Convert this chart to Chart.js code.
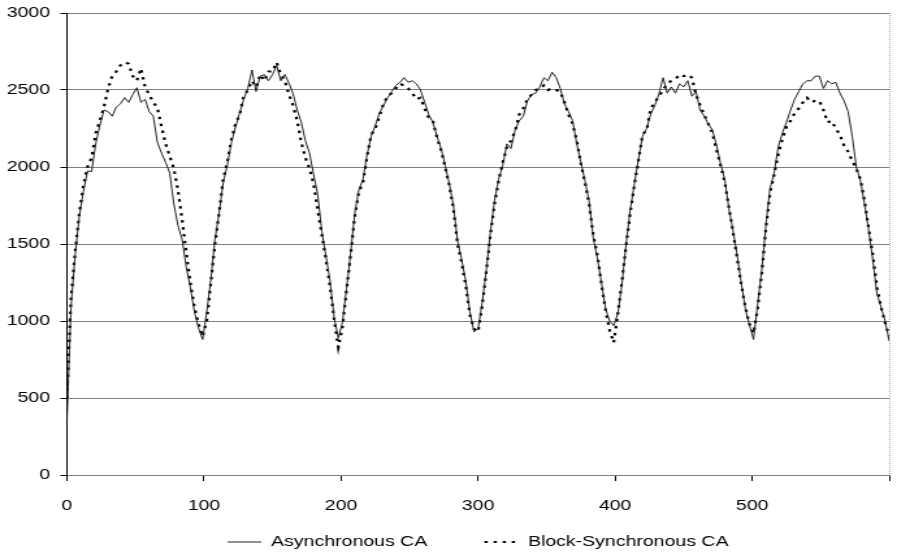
<!DOCTYPE html>
<html>
<head>
<meta charset="utf-8">
<script src="https://cdn.jsdelivr.net/npm/chart.js@4.4.0/dist/chart.umd.min.js"></script>
<style>
  html, body { margin: 0; padding: 0; background: #fff; overflow: hidden; }
  /* chart is laid out 700 wide and widened to 910 */
  #wrap { width: 700px; height: 556px; transform: scaleX(1.3); transform-origin: 0 0; }
</style>
</head>
<body>
<div id="wrap"><canvas id="cycles" width="700" height="556"></canvas></div>
<script>
// sampled every 3 steps, 0..600
var STEP = 3;
var steps = [];
for (var t = 0; t <= 600; t += STEP) steps.push(t);

var asyncCA = [
  350, 1100, 1430, 1680, 1840, 1975, 1970, 2150, 2270, 2370,
  2360, 2330, 2390, 2410, 2450, 2420, 2470, 2515, 2420, 2440,
  2360, 2330, 2160, 2090, 2030, 1960, 1760, 1620, 1530, 1353,
  1220, 1060, 955, 880, 1060, 1270, 1530, 1700, 1900, 2010,
  2160, 2260, 2350, 2440, 2510, 2630, 2490, 2590, 2600, 2560,
  2600, 2660, 2560, 2600, 2545, 2475, 2370, 2290, 2170, 2090,
  1950, 1820, 1580, 1420, 1260, 1020, 890, 990, 1210, 1440,
  1700, 1850, 1920, 2080, 2200, 2270, 2350, 2400, 2450, 2490,
  2530, 2550, 2580, 2550, 2560, 2540, 2500, 2420, 2340, 2290,
  2200, 2120, 2010, 1890, 1750, 1520, 1400, 1260, 1060, 930,
  950, 1120, 1330, 1580, 1780, 1920, 2010, 2150, 2120, 2240,
  2300, 2330, 2430, 2470, 2480, 2520, 2580, 2560, 2615, 2580,
  2510, 2410, 2360, 2300, 2150, 2030, 1910, 1780, 1540, 1410,
  1250, 1080, 1000, 970, 1050, 1240, 1500, 1720, 1890, 2050,
  2200, 2250, 2345, 2400, 2475, 2580, 2480, 2520, 2480, 2540,
  2520, 2560, 2460, 2490, 2370, 2330, 2280, 2240, 2140, 2020,
  1920, 1730, 1590, 1430, 1250, 1080, 975, 880, 1110, 1330,
  1620, 1860, 1960, 2130, 2220, 2290, 2370, 2440, 2490, 2540,
  2560, 2560, 2590, 2590, 2510, 2560, 2540, 2550, 2480, 2430,
  2360, 2200, 2000, 1910, 1760, 1590, 1400, 1180, 1090, 1000,
  870
];

var blockSyncCA = [
  500, 1150, 1450, 1700, 1880, 2000, 2060, 2220, 2300, 2390,
  2510, 2590, 2620, 2660, 2680, 2670, 2590, 2560, 2640, 2520,
  2470, 2420, 2385, 2262, 2150, 2070, 1990, 1850, 1660, 1450,
  1250, 1090, 980, 900, 1000, 1250, 1500, 1700, 1920, 2030,
  2180, 2280, 2340, 2460, 2500, 2560, 2520, 2600, 2560, 2620,
  2620, 2680, 2600, 2560, 2470, 2400, 2300, 2160, 2060, 1990,
  1890, 1720, 1560, 1400, 1220, 1010, 830, 960, 1200, 1430,
  1680, 1840, 1900, 2070, 2210, 2250, 2330, 2410, 2460, 2480,
  2510, 2540, 2530, 2510, 2480, 2440, 2450, 2380, 2320, 2300,
  2190, 2110, 2000, 1880, 1730, 1500, 1380, 1230, 1040, 950,
  930, 1100, 1320, 1560, 1760, 1910, 2030, 2130, 2170, 2230,
  2340, 2380, 2440, 2470, 2500, 2510, 2530, 2500, 2510, 2500,
  2490, 2420, 2340, 2280, 2170, 2020, 1900, 1760, 1560, 1430,
  1240, 1070, 940, 860, 1050, 1260, 1490, 1700, 1880, 2040,
  2210, 2240, 2380, 2420, 2460, 2500, 2540, 2560, 2570, 2600,
  2590, 2600, 2580, 2470, 2400, 2340, 2280, 2220, 2110, 2010,
  1900, 1740, 1580, 1410, 1240, 1090, 980, 920, 1080, 1310,
  1600, 1830, 1950, 2080, 2180, 2260, 2300, 2350, 2380, 2420,
  2450, 2420, 2430, 2430, 2370, 2290, 2300, 2250, 2210, 2140,
  2100, 2040, 1990, 1920, 1780, 1600, 1430, 1220, 1090, 990,
  900
];

var xLabels = [0, 100, 200, 300, 400, 500];
var yTicks = [0, 500, 1000, 1500, 2000, 2500, 3000];

function points(values) {
  return values.map(function(v, i) { return { x: steps[i], y: v }; });
}

var font = { family: '"Liberation Sans", Arial, sans-serif', size: 15 };

// labels.padding also spaces the two entries apart, which makes the
// legend box tall; pull it up so the row sits just under the x labels
var LEGEND_LIFT = 25.5;
var liftLegend = {
  id: 'liftLegend',
  afterUpdate: function(chart) {
    if (!chart.legend) return;
    chart.legend.top -= LEGEND_LIFT;
    chart.legend.bottom -= LEGEND_LIFT;
  }
};

new Chart(document.getElementById('cycles'), {
  type: 'line',
  data: {
    datasets: [{
      label: 'Asynchronous CA',
      data: points(asyncCA),
      borderColor: '#222',
      borderWidth: 1,
      pointRadius: 0,
      tension: 0
    }, {
      label: 'Block-Synchronous CA',
      data: points(blockSyncCA),
      borderColor: '#000',
      borderWidth: 2.2,
      borderDash: [2.5, 4.5],
      pointRadius: 0,
      tension: 0
    }]
  },
  plugins: [liftLegend],
  options: {
    responsive: false,
    animation: false,
    devicePixelRatio: 1,
    layout: { padding: { left: 0, right: 5, top: 13, bottom: -29 } },
    plugins: {
      tooltip: { enabled: false },
      legend: {
        position: 'bottom',
        fullSize: false,
        labels: {
          usePointStyle: true,
          pointStyle: 'line',
          pointStyleWidth: 26,
          color: '#000',
          font: font,
          padding: 44,
          // line samples take the dash of their dataset
          generateLabels: function(chart) {
            var items = Chart.defaults.plugins.legend.labels.generateLabels(chart);
            items.forEach(function(it) {
              var ds = chart.data.datasets[it.datasetIndex];
              it.lineDash = ds.borderDash || [];
              it.lineWidth = ds.borderWidth;
              it.strokeStyle = ds.borderColor;
            });
            return items;
          }
        }
      }
    },
    scales: {
      x: {
        type: 'linear',
        min: 0,
        max: 600,
        afterBuildTicks: function(s) {
          s.ticks = xLabels.concat([600]).map(function(v) { return { value: v }; });
        },
        afterFit: function(s) { s.height = 41; },
        ticks: {
          color: '#000',
          font: font,
          padding: 16,
          maxRotation: 0,
          callback: function(v) { return xLabels.indexOf(v) >= 0 ? String(v) : ''; }
        },
        grid: {
          drawOnChartArea: true,
          color: function(c) { return c.tick && c.tick.value === 600 ? '#aaa' : 'rgba(0,0,0,0)'; },
          tickColor: '#000',
          tickLength: 6
        },
        border: { display: true, color: '#808080', width: 1, dash: [1, 1] }
      },
      y: {
        min: 0,
        max: 3000,
        afterBuildTicks: function(s) {
          s.ticks = yTicks.map(function(v) { return { value: v }; });
        },
        afterFit: function(s) {
          s.width = 51.5;
          s.paddingTop = 0;
          s.paddingBottom = 0;
        },
        ticks: {
          color: '#000',
          font: font,
          padding: 8,
          callback: function(v) { return String(v); }
        },
        grid: {
          color: '#808080',
          lineWidth: 1,
          tickColor: '#000',
          tickLength: 5
        },
        border: { display: true, color: '#000', width: 1 }
      }
    }
  }
});
</script>
</body>
</html>
